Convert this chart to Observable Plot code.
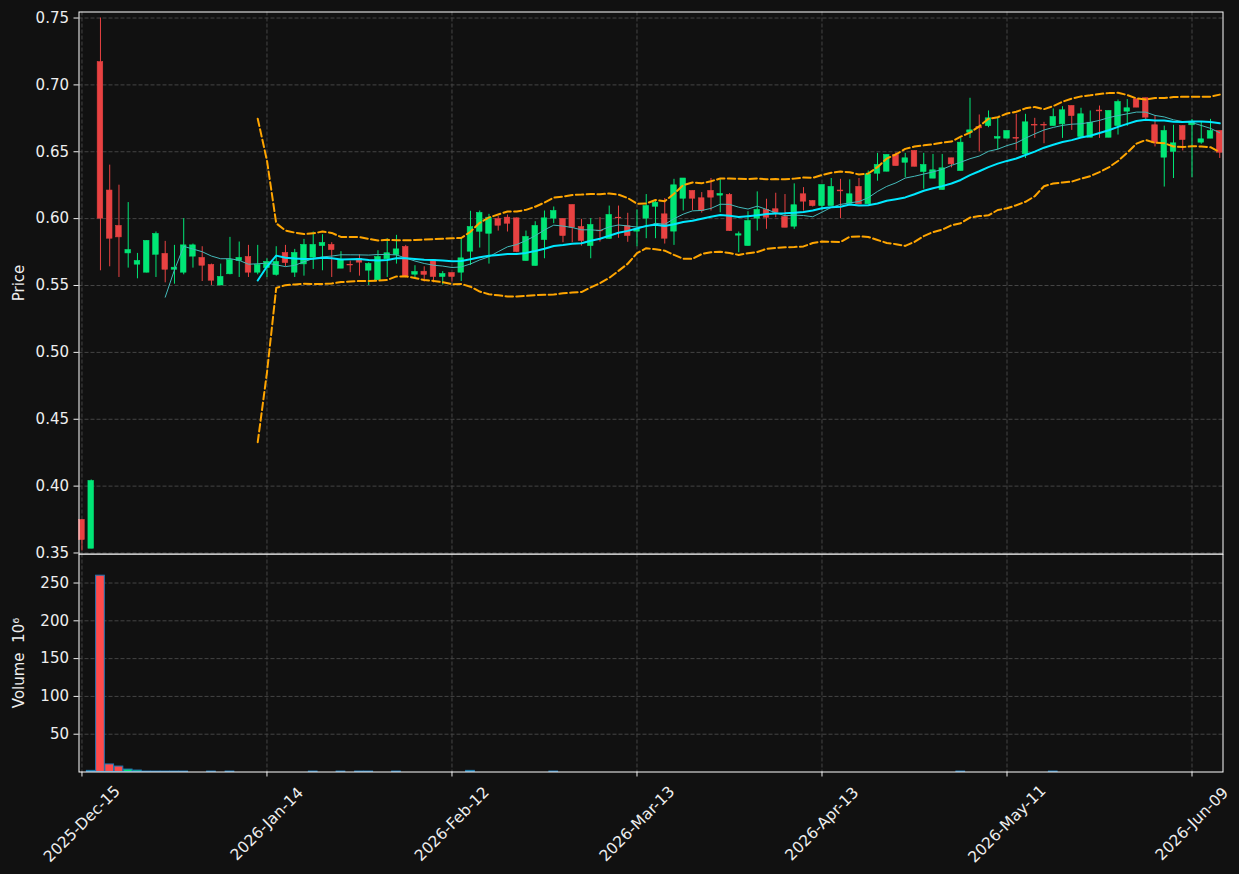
<!DOCTYPE html>
<html><head><meta charset="utf-8">
<script src="https://cdn.jsdelivr.net/npm/d3@7"></script>
<script src="https://cdn.jsdelivr.net/npm/@observablehq/plot@0.6"></script>
<style>
html,body{margin:0;padding:0;background:#111111;}
#chart{width:1239px;height:874px;position:relative;background:#111111;overflow:hidden;}
#chart svg{display:block;position:absolute;left:0;}
</style></head><body><div id="chart"></div>
<script>
// ---- data ----
const opens = [0.3747,0.3532,0.717,0.621,0.5945,0.574,0.5656,0.5596,0.573,0.5736,
0.5618,0.5596,0.5716,0.5706,0.5653,0.550,0.5584,0.5683,0.5713,0.5596,
0.563,0.5579,0.5743,0.5596,0.5658,0.5708,0.5795,0.5803,0.5626,0.5655,
0.5698,0.5611,0.5539,0.5696,0.5728,0.5788,0.5581,0.5603,0.5688,0.5564,
0.5593,0.5596,0.5753,0.5902,0.5887,0.5997,0.6007,0.6002,0.5683,0.5646,
0.584,0.600,0.5997,0.6102,0.5937,0.5795,0.5910,0.5848,0.6007,0.5943,
0.5903,0.600,0.6089,0.6032,0.5903,0.6149,0.6207,0.6152,0.6207,0.6172,
0.6177,0.5873,0.5795,0.600,0.6065,0.607,0.6012,0.594,0.6182,0.6132,
0.6094,0.6094,0.6210,0.6112,0.6237,0.6107,0.6336,0.6351,0.6476,0.6418,
0.6506,0.6349,0.6299,0.6214,0.6451,0.6356,0.6642,0.6685,0.6692,0.6598,
0.6598,0.6603,0.6481,0.670,0.670,0.6692,0.6705,0.6842,0.661,0.6605,
0.6808,0.6605,0.6692,0.680,0.6892,0.690,0.6698,0.6456,0.650,0.6692,
0.6698,0.6568,0.6598,0.6655];
const highs = [0.375,0.4046,0.750,0.640,0.625,0.612,0.574,0.5835,0.590,0.583,
0.580,0.600,0.581,0.579,0.566,0.566,0.586,0.5825,0.580,0.580,
0.570,0.579,0.580,0.577,0.5845,0.590,0.588,0.582,0.5753,0.5683,
0.573,0.567,0.576,0.585,0.5875,0.580,0.5648,0.564,0.569,0.5604,
0.5593,0.585,0.6055,0.6057,0.6032,0.6015,0.6027,0.6005,0.5907,0.5977,
0.6057,0.6087,0.600,0.6102,0.5995,0.600,0.6007,0.6094,0.6094,0.604,
0.6065,0.618,0.613,0.615,0.6294,0.630,0.6207,0.6195,0.630,0.6294,
0.6187,0.590,0.6052,0.620,0.6145,0.619,0.618,0.626,0.6232,0.6135,
0.6251,0.630,0.6294,0.629,0.630,0.6356,0.6488,0.6476,0.6493,0.6488,
0.6506,0.6488,0.648,0.648,0.6451,0.660,0.690,0.6775,0.6805,0.675,
0.6655,0.678,0.678,0.675,0.672,0.682,0.6837,0.6842,0.6825,0.6805,
0.6842,0.6805,0.6887,0.689,0.6892,0.690,0.6767,0.6692,0.6698,0.6695,
0.6742,0.6722,0.6742,0.6655];
const lows = [0.3515,0.3532,0.561,0.564,0.556,0.563,0.555,0.5594,0.556,0.552,
0.551,0.558,0.563,0.553,0.550,0.550,0.558,0.556,0.556,0.558,
0.556,0.557,0.564,0.556,0.557,0.562,0.561,0.556,0.5626,0.5596,
0.557,0.550,0.5539,0.556,0.566,0.5558,0.5558,0.5526,0.552,0.5504,
0.5526,0.553,0.565,0.578,0.566,0.5907,0.590,0.5745,0.5683,0.5646,
0.570,0.5962,0.582,0.582,0.5795,0.570,0.5825,0.5848,0.5853,0.5823,
0.579,0.585,0.585,0.581,0.580,0.6057,0.606,0.6042,0.6057,0.6044,
0.5905,0.5745,0.5795,0.5907,0.592,0.6007,0.5932,0.592,0.6057,0.6087,
0.606,0.6094,0.600,0.611,0.6107,0.6107,0.628,0.635,0.6393,0.6306,
0.6388,0.622,0.6299,0.6214,0.638,0.6356,0.660,0.650,0.668,0.6513,
0.6598,0.651,0.645,0.660,0.656,0.669,0.660,0.666,0.661,0.6605,
0.660,0.6605,0.6625,0.669,0.683,0.673,0.6536,0.6236,0.630,0.6506,
0.6306,0.6556,0.6598,0.645];
const closes = [0.3597,0.4038,0.600,0.585,0.586,0.5765,0.5683,0.5833,0.5885,0.5618,
0.5633,0.580,0.580,0.5648,0.5536,0.5564,0.569,0.5706,0.5596,0.5653,
0.5676,0.5676,0.5668,0.5743,0.5803,0.5803,0.5818,0.5765,0.5693,0.5650,
0.5671,0.5661,0.5713,0.5741,0.577,0.5566,0.5601,0.558,0.5564,0.5586,
0.5564,0.5703,0.5937,0.6042,0.6007,0.5947,0.5962,0.575,0.5863,0.5945,
0.6002,0.6057,0.587,0.5932,0.5833,0.5952,0.5905,0.6027,0.6003,0.587,
0.592,0.6094,0.6119,0.585,0.6249,0.630,0.6149,0.6057,0.6157,0.6184,
0.5907,0.5883,0.5982,0.6065,0.6007,0.6044,0.5932,0.610,0.6127,0.6094,
0.6251,0.6237,0.6204,0.6182,0.6107,0.6331,0.6401,0.6476,0.6393,0.6451,
0.6388,0.6401,0.6361,0.6376,0.6406,0.6568,0.666,0.6675,0.675,0.661,
0.6655,0.6598,0.672,0.6696,0.6696,0.676,0.681,0.6767,0.678,0.6717,
0.6802,0.6805,0.6872,0.6825,0.683,0.6755,0.6563,0.6655,0.6563,0.6588,
0.6722,0.6593,0.6655,0.6493];
// volume in millions
const volumes = [0,1.5,259.7,10,7.2,3.2,1.9,0.6,0.6,0.6,
0.6,0.6,0,0,0.6,0,0.6,0,0,0,
0,0,0,0,0,0.6,0,0,0.6,0,
0.6,0.6,0,0,0.6,0,0,0,0,0,
0,0,1.5,0,0,0,0,0,0,0,
0,0.6,0,0,0,0,0,0,0,0,
0,0,0,0,0,0,0,0,0,0,
0,0,0,0,0,0,0,0,0,0,
0,0,0,0,0,0,0,0,0,0,
0,0,0,0,0,0.6,0,0,0,0,
0,0,0,0,0,0.6,0,0,0,0,
0,0,0,0,0,0,0,0,0,0,
0,0,0,0];
const tickIndex = [0,20,40,60,80,100,120];
const tickLabels = ["2025-Dec-15","2026-Jan-14","2026-Feb-12","2026-Mar-13","2026-Apr-13","2026-May-11","2026-Jun-09"];
const priceTicks = [0.35,0.40,0.45,0.50,0.55,0.60,0.65,0.70,0.75];
const volumeTicks = [50,100,150,200,250];

// ---- derived ----
const bars = closes.map((c,i)=>({i, open:opens[i], high:highs[i], low:lows[i], close:c, volume:volumes[i], up: c>=opens[i]}));
function rolling(k, fn){ return closes.map((c,i)=> i<k-1 ? null : fn(closes.slice(i-k+1,i+1))); }
const ma10 = rolling(10, d3.mean);
const ma20 = rolling(20, d3.mean);
const bbUp = rolling(20, w=>d3.mean(w)+2*d3.deviation(w));
const bbLo = rolling(20, w=>d3.mean(w)-2*d3.deviation(w));
const lines = closes.map((c,i)=>({i, ma10:ma10[i], ma20:ma20[i], up:bbUp[i], lo:bbLo[i]}));

const GREEN="#00e676", RED="#e84242", VRED="#ff4a4a", GRID="#454545", TXT="#eeeeee";
const W=1239, ML=78.5, MR=16.5, FS=15;
const xDomain=[-0.32,123.35];
const style={background:"#111111", color:TXT, fontFamily:"DejaVu Sans, sans-serif", fontSize:"15px", overflow:"visible"};
const ups = bars.filter(d=>d.up), downs = bars.filter(d=>!d.up);

const main = Plot.plot({
  width:W, height:554, marginLeft:ML, marginRight:MR, marginTop:11.5, marginBottom:0.5,
  style,
  x:{domain:xDomain, axis:null, label:null},
  y:{domain:[0.34925,0.7545], axis:null, label:null},
  marks:[
    Plot.gridY(priceTicks,{stroke:GRID, strokeOpacity:1, strokeDasharray:"4,2"}),
    Plot.gridX(tickIndex,{stroke:GRID, strokeOpacity:1, strokeDasharray:"4,2"}),
    Plot.axisY(priceTicks,{tickFormat:d3.format(".2f"), tickSize:5, tickPadding:5, label:null, stroke:TXT, fontSize:FS}),
    Plot.ruleX(ups,{x:"i", y1:"low", y2:"high", stroke:GREEN, strokeWidth:1}),
    Plot.ruleX(downs,{x:"i", y1:"low", y2:"high", stroke:RED, strokeWidth:1}),
    Plot.rect(ups,{x1:d=>d.i-0.3, x2:d=>d.i+0.3, y1:"open", y2:"close", fill:GREEN, stroke:GREEN, strokeWidth:0.6}),
    Plot.rect(downs,{x1:d=>d.i-0.3, x2:d=>d.i+0.3, y1:"open", y2:"close", fill:RED, stroke:RED, strokeWidth:0.6}),
    Plot.line(lines,{x:"i", y:"ma10", stroke:"#44baba", strokeWidth:1}),
    Plot.line(lines,{x:"i", y:"ma20", stroke:"#00e8ff", strokeWidth:2}),
    Plot.line(lines,{x:"i", y:"up", stroke:"#ffa500", strokeWidth:2, strokeDasharray:"7.5,3.3"}),
    Plot.line(lines,{x:"i", y:"lo", stroke:"#ffa500", strokeWidth:2, strokeDasharray:"7.5,3.3"}),
    Plot.text(["Price"],{frameAnchor:"left", dx:-60, rotate:-90, textAnchor:"middle", fontSize:FS, fill:TXT}),
    Plot.frame({stroke:"#ffffff", strokeWidth:1})
  ]
});
main.style.top="0px";

const vol = Plot.plot({
  width:W, height:321, marginLeft:ML, marginRight:MR, marginTop:0.5, marginBottom:102.5,
  style,
  x:{domain:xDomain, axis:null, label:null},
  y:{domain:[0,288.4], axis:null, label:null},
  marks:[
    Plot.gridY(volumeTicks,{stroke:GRID, strokeOpacity:1, strokeDasharray:"4,2"}),
    Plot.gridX(tickIndex,{stroke:GRID, strokeOpacity:1, strokeDasharray:"4,2"}),
    Plot.axisY(volumeTicks,{tickSize:5, tickPadding:5, label:null, stroke:TXT, fontSize:FS}),
    Plot.axisX(tickIndex,{tickSize:5, tickFormat:()=>"", label:null, stroke:TXT}),
    Plot.rect(bars.filter(d=>d.volume>0),{x1:d=>d.i-0.47, x2:d=>d.i+0.47, y1:0, y2:"volume",
      fill:d=>d.up?GREEN:VRED, stroke:"#1f77b4", strokeWidth:1}),
    Plot.text(tickIndex,{x:d=>d, frameAnchor:"bottom", dy:52, rotate:-45, textAnchor:"middle",
      lineAnchor:"middle", fontSize:15.5, text:(d,j)=>tickLabels[j], fill:TXT}),
    Plot.text(["Volume  10\u2076"],{frameAnchor:"left", dx:-60, rotate:-90, textAnchor:"middle", fontSize:FS, fill:TXT}),
    Plot.frame({stroke:"#ffffff", strokeWidth:1})
  ]
});
vol.style.top="553px";

// volume panel first so the main panel's lowest tick label can overlap it
document.getElementById("chart").append(vol, main);
</script></body></html>
